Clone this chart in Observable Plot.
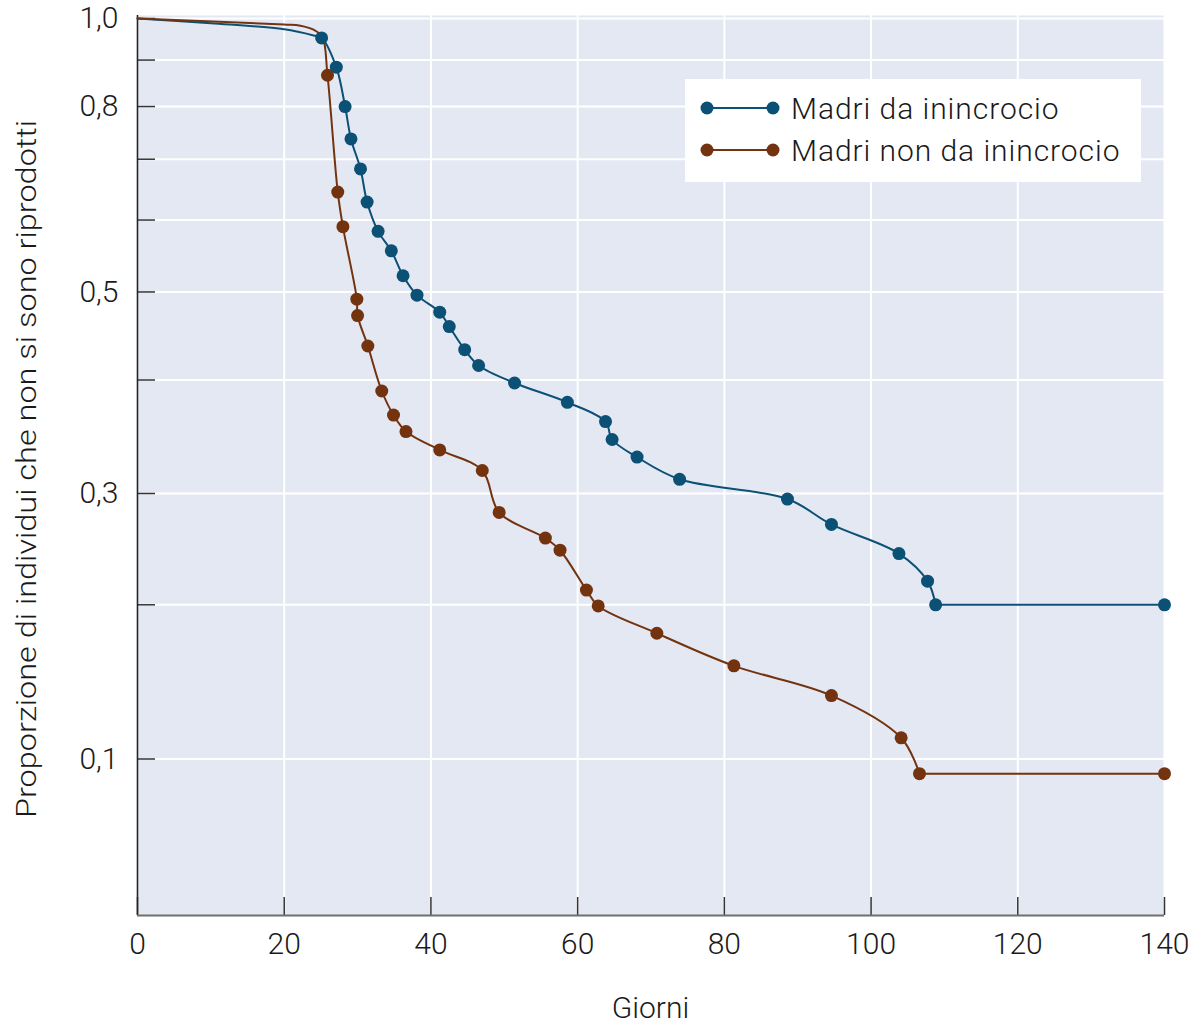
<!DOCTYPE html>
<html>
<head>
<meta charset="utf-8">
<script src="https://cdn.jsdelivr.net/npm/d3@7"></script>
<script src="https://cdn.jsdelivr.net/npm/@observablehq/plot@0.6"></script>
<style>
  html, body { margin: 0; padding: 0; background: #ffffff; }
  #wrap { position: relative; width: 1188px; height: 1026px; overflow: hidden; }
  #wrap svg text { font-family: Roboto, "Liberation Sans", Arial, sans-serif; font-weight: 300; }
  #legend { position: absolute; left: 685px; top: 79px; }
</style>
</head>
<body>
<div id="wrap"></div>
<script>
// ---------------- data ----------------
const seriesNames = ["Madri da inincrocio", "Madri non da inincrocio"];

// Inbred mothers: recorded points (with markers)
const inbredDays = [25.1, 27.1, 28.3, 29.1, 30.4, 31.3, 32.8, 34.6, 36.2, 38.1, 41.2, 42.5, 44.6, 46.5, 51.4, 58.6, 63.8, 64.7, 68.1, 73.9, 88.6, 94.6, 103.8, 107.7, 108.8, 140];
const inbredProp = [0.952, 0.884, 0.800, 0.737, 0.683, 0.628, 0.583, 0.555, 0.521, 0.496, 0.475, 0.458, 0.432, 0.415, 0.397, 0.378, 0.360, 0.344, 0.329, 0.311, 0.294, 0.268, 0.241, 0.218, 0.200, 0.200];
// Inbred mothers: curve start before the first marker (no markers)
const inbredLeadDays = [0, 10, 20, 24.0];
const inbredLeadProp = [1.0, 0.988, 0.973, 0.958];

// Non-inbred mothers: recorded points (with markers)
const outbredDays = [25.9, 27.3, 28.0, 29.9, 30.0, 31.4, 33.3, 34.9, 36.6, 41.2, 47.0, 49.3, 55.6, 57.6, 61.2, 62.8, 70.8, 81.3, 94.6, 104.1, 106.6, 140];
const outbredProp = [0.866, 0.644, 0.590, 0.491, 0.471, 0.436, 0.389, 0.366, 0.351, 0.335, 0.318, 0.280, 0.255, 0.244, 0.211, 0.199, 0.176, 0.152, 0.133, 0.110, 0.0936, 0.0936];
// Non-inbred mothers: curve start before the first marker (no markers)
const outbredLeadDays = [0, 20, 22.2, 24.0, 25.2];
const outbredLeadProp = [1.0, 0.985, 0.982, 0.972, 0.954];

// axis ticks
const xTicks = [0, 20, 40, 60, 80, 100, 120, 140];
const yTicks = [1.0, 0.9, 0.8, 0.7, 0.6, 0.5, 0.4, 0.3, 0.2, 0.1];
const yLabelTicks = [1.0, 0.8, 0.5, 0.3, 0.1];

// ---------------- tables ----------------
const zip = (xs, ys, s) => xs.map((d, i) => ({day: d, prop: ys[i], series: s}));
const inbredPts = zip(inbredDays, inbredProp, seriesNames[0]);
const outbredPts = zip(outbredDays, outbredProp, seriesNames[1]);
const inbredAll = zip(inbredLeadDays, inbredLeadProp, seriesNames[0]).concat(inbredPts);
const outbredAll = zip(outbredLeadDays, outbredLeadProp, seriesNames[1]).concat(outbredPts);
// smooth part up to the start of the final plateau, straight plateau afterwards
const inbredCurve = inbredAll.slice(0, -1), inbredTail = inbredAll.slice(-2);
const outbredCurve = outbredAll.slice(0, -1), outbredTail = outbredAll.slice(-2);

// ---------------- style ----------------
const BLUE = "#0b5075";
const BROWN = "#73330f";
const BG = "#e4e8f3";
const INK = "#1a1a1a";
const W = 1188, H = 1026;
const mL = 137, mR = 24, mT = 15, mB = 111;

// piecewise log scale (the printed axis is compressed below 0.3)
const yDomain = [1.0076, 1.0, 0.3, 0.2, 0.1, 0.0494];
const yRange  = [15, 18, 493, 604.3, 758.5, 915];
const yBottom = 0.0494;

const fmt = d => d.toFixed(1).replace(".", ",");

const chart = Plot.plot({
  width: W,
  height: H,
  marginLeft: mL,
  marginRight: mR,
  marginTop: mT,
  marginBottom: mB,
  style: {background: "transparent", color: INK, fontSize: "30px"},
  x: {domain: [0, 140], label: null},
  y: {type: "log", domain: yDomain, range: yRange, label: null},
  marks: [
    Plot.frame({fill: BG, stroke: null}),
    Plot.gridX({ticks: xTicks, stroke: "#ffffff", strokeOpacity: 1, strokeWidth: 2}),
    Plot.gridY({ticks: yTicks, stroke: "#ffffff", strokeOpacity: 1, strokeWidth: 2}),
    // inward tick marks
    Plot.axisY({ticks: yTicks, tickSize: 18, dx: 18, tickFormat: () => "", label: null, stroke: "#333", strokeWidth: 1.5}),
    Plot.axisX({ticks: xTicks, tickSize: 18, dy: -18, tickFormat: () => "", label: null, stroke: "#333", strokeWidth: 1.5}),
    // tick labels
    Plot.text(yLabelTicks, {y: d => d, text: fmt, frameAnchor: "left", textAnchor: "end", dx: -19, fontSize: 30, fill: INK}),
    Plot.axisX({ticks: xTicks, tickSize: 0, tickPadding: 17, tickFormat: d => String(d), label: null, fontSize: 30, fill: INK}),
    // axis lines
    Plot.ruleX([0], {stroke: "#222", strokeWidth: 1.6}),
    Plot.ruleY([yBottom], {stroke: "#6f6f6f", strokeWidth: 2}),
    // series
    Plot.line(inbredCurve, {x: "day", y: "prop", curve: "catmull-rom", stroke: BLUE, strokeWidth: 2}),
    Plot.line(inbredTail, {x: "day", y: "prop", curve: "linear", stroke: BLUE, strokeWidth: 2}),
    Plot.line(outbredCurve, {x: "day", y: "prop", curve: "catmull-rom", stroke: BROWN, strokeWidth: 2}),
    Plot.line(outbredTail, {x: "day", y: "prop", curve: "linear", stroke: BROWN, strokeWidth: 2}),
    Plot.dot(inbredPts, {x: "day", y: "prop", r: 6.5, fill: BLUE, stroke: null}),
    Plot.dot(outbredPts, {x: "day", y: "prop", r: 6.5, fill: BROWN, stroke: null})
  ]
});

const wrap = document.getElementById("wrap");
wrap.appendChild(chart);

// axis titles
const svg = d3.select(chart);
svg.append("text")
  .attr("transform", "translate(36,469) rotate(-90)")
  .attr("text-anchor", "middle")
  .attr("fill", INK)
  .attr("font-size", 27)
  .attr("textLength", 698)
  .attr("lengthAdjust", "spacingAndGlyphs")
  .text("Proporzione di individui che non si sono riprodotti");
svg.append("text")
  .attr("x", (mL + (W - mR)) / 2)
  .attr("y", 1018)
  .attr("text-anchor", "middle")
  .attr("fill", INK)
  .attr("font-size", 30)
  .text("Giorni");

// legend
const legendColors = [BLUE, BROWN];
const leg = d3.select(wrap).append("svg")
  .attr("id", "legend")
  .attr("width", 456)
  .attr("height", 103);
leg.append("rect").attr("width", 456).attr("height", 103).attr("fill", "#ffffff");
seriesNames.forEach((name, i) => {
  const y = 29 + i * 42;
  const g = leg.append("g");
  g.append("line").attr("x1", 22).attr("x2", 88).attr("y1", y).attr("y2", y)
    .attr("stroke", legendColors[i]).attr("stroke-width", 2);
  g.append("circle").attr("cx", 22).attr("cy", y).attr("r", 6.5).attr("fill", legendColors[i]);
  g.append("circle").attr("cx", 88).attr("cy", y).attr("r", 6.5).attr("fill", legendColors[i]);
  g.append("text").attr("x", 106).attr("y", y).attr("dy", "0.35em")
    .attr("font-size", 30).attr("fill", INK)
    .attr("letter-spacing", "0.95px")
    .style("font-family", "Roboto, 'Liberation Sans', Arial, sans-serif")
    .style("font-weight", 300)
    .text(name);
});
</script>
</body>
</html>
